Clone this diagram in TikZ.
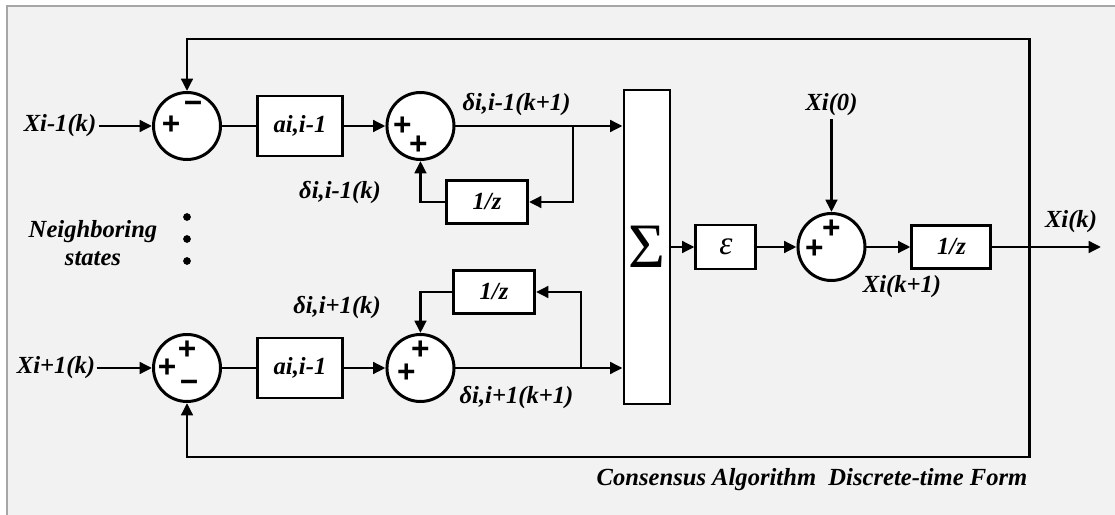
\documentclass[tikz,border=0pt]{standalone}
\usepackage{fontspec}
\setmainfont{Liberation Serif}
\newfontfamily\signfont{Liberation Sans}
\usepackage{tikz}
\usetikzlibrary{arrows.meta, positioning}
\definecolor{bgray}{HTML}{F2F2F2}

\begin{document}
\begin{tikzpicture}[sumnode/.style={draw, circle, fill=white, line width=1.7pt, minimum size=1.34cm, inner sep=0pt},
    gainbox/.style={draw, fill=white, line width=1.7pt, minimum width=1.7cm, minimum height=1.2cm, font=\fontsize{14}{16}\selectfont\bfseries\itshape},
    delaybox/.style={draw, fill=white, line width=1.7pt, minimum width=1.62cm, minimum height=0.86cm, font=\fontsize{14}{16}\selectfont\bfseries\itshape},
    lbl/.style={inner sep=1pt, font=\fontsize{14}{16}\selectfont\bfseries\itshape},
    sign/.style={inner sep=0pt, font=\signfont\fontsize{18}{18}\selectfont\bfseries},
    >={Triangle[length=7pt, width=6.5pt]}, line width=1.7pt]
      \useasboundingbox (0,0) rectangle (22.3,10.3);
      \fill[white] (0,0) rectangle (22.3,10.3);
      \fill[bgray] (0.14,0) rectangle (22.3,10.18);
      \draw[gray!70, line width=0.6pt] (0.14,0) -- (0.14,10.18) -- (22.3,10.18);
      % upper neighbour
      \node[sumnode] (sum_up) at (3.74,7.78) {};
      \node[gainbox, right=0.68cm of sum_up] (gain_up) {ai,i-1};
      \node[sumnode, right=0.83cm of gain_up] (acc_up) {};
      \node[delaybox] (delay_up) at (9.74,6.26) {1/z};
      \node[lbl] (xm1) at (1.2,7.78) {Xi-1(k)};
      \node[lbl] (d_up_next) at (10.33,8.2) {δi,i-1(k+1)};
      \node[lbl] (d_up) at (6.8,6.44) {δi,i-1(k)};
      % lower neighbour
      \node[sumnode] (sum_dn) at (3.74,2.94) {};
      \node[gainbox, right=0.68cm of sum_dn] (gain_dn) {ai,i-1};
      \node[sumnode, right=0.83cm of gain_dn] (acc_dn) {};
      \node[delaybox] (delay_dn) at (9.88,4.46) {1/z};
      \node[lbl, inner sep=0pt] (xp1) at (1.12,2.94) {Xi+1(k)};
      \node[lbl] (d_dn_next) at (10.33,2.34) {δi,i+1(k+1)};
      \node[lbl] (d_dn) at (6.74,4.14) {δi,i+1(k)};
      % neighbouring states
      \node[lbl, align=center] (neigh) at (1.86,5.44) {Neighboring\\states};
      \foreach \i/\y in {1/5.96, 2/5.52, 3/5.08}
        \fill (3.74,\y) circle (2.2pt) coordinate (dot\i);
      % consensus part
      \node[draw, fill=white, line width=1.7pt, minimum width=0.92cm, minimum height=6.28cm, inner sep=0pt] (sigma) at (12.94,5.36) {\fontsize{36}{36}\selectfont Σ};
      \node[draw, fill=white, line width=1.7pt, minimum width=1.2cm, minimum height=0.88cm, right=0.46cm of sigma, font=\fontsize{19}{19}\selectfont\itshape] (eps) {ε};
      \node[sumnode, right=0.78cm of eps] (sum_out) {};
      \node[delaybox, minimum width=1.58cm, right=0.88cm of sum_out] (delay_out) {1/z};
      \node[lbl] (x0) at (sum_out |- 0,8.2) {Xi(0)};
      \node[lbl] (xk1) at (18.04,4.56) {Xi(k+1)};
      \node[lbl] (xk) at (21.42,5.86) {Xi(k)};
      \node[lbl] (title) at (16.24,0.7) {Consensus Algorithm\ \ Discrete-time Form};
      \coordinate (tap) at (20.58,5.36);
      \coordinate (out_end) at (22.02,5.36);
      \coordinate (fb_top) at (3.74,9.52);
      \coordinate (fb_bot) at (3.74,1.16);
      \coordinate (branch_up) at (11.46,7.78);
      \coordinate (branch_dn) at (11.62,2.94);
      % signs
      \node[sign] (sum_up_a) at ([shift={(-0.32,0.02)}]sum_up) {+};
      \node[sign] (sum_up_b) at ([shift={(0.12,0.38)}]sum_up) {−};
      \node[sign] (acc_up_a) at ([shift={(-0.36,0)}]acc_up) {+};
      \node[sign] (acc_up_b) at ([shift={(-0.04,-0.38)}]acc_up) {+};
      \node[sign] (sum_dn_a) at ([shift={(-0.4,0)}]sum_dn) {+};
      \node[sign] (sum_dn_b) at ([shift={(0,0.36)}]sum_dn) {+};
      \node[sign] (sum_dn_c) at ([shift={(0.04,-0.36)}]sum_dn) {−};
      \node[sign] (acc_dn_a) at ([shift={(-0.28,-0.1)}]acc_dn) {+};
      \node[sign] (acc_dn_b) at ([shift={(0,0.36)}]acc_dn) {+};
      \node[sign] (sum_out_a) at ([shift={(-0.34,-0.04)}]sum_out) {+};
      \node[sign] (sum_out_b) at ([shift={(0,0.36)}]sum_out) {+};
      % connections
      \draw[->] (xm1) -- (sum_up);
      \draw (sum_up) -- (gain_up);
      \draw[->] (gain_up) -- (acc_up);
      \draw[->] (acc_up) -- (acc_up -| sigma.west);
      \draw[->] (branch_up) |- (delay_up);
      \draw[->] (delay_up) -| (acc_up);
      \draw[->] (xp1) -- (sum_dn);
      \draw (sum_dn) -- (gain_dn);
      \draw[->] (gain_dn) -- (acc_dn);
      \draw[->] (acc_dn) -- (acc_dn -| sigma.west);
      \draw[->] (branch_dn) |- (delay_dn);
      \draw[->] (delay_dn) -| (acc_dn);
      \draw[->] (sigma) -- (eps);
      \draw[->] (eps) -- (sum_out);
      \draw[->] (x0) -- (sum_out);
      \draw[->] (sum_out) -- (delay_out);
      \draw[->] (delay_out) -- (out_end);
      \draw[->] (tap) |- (fb_top) -- (sum_up);
      \draw[->] (tap) |- (fb_bot) -- (sum_dn);
    \end{tikzpicture}
\end{document}
